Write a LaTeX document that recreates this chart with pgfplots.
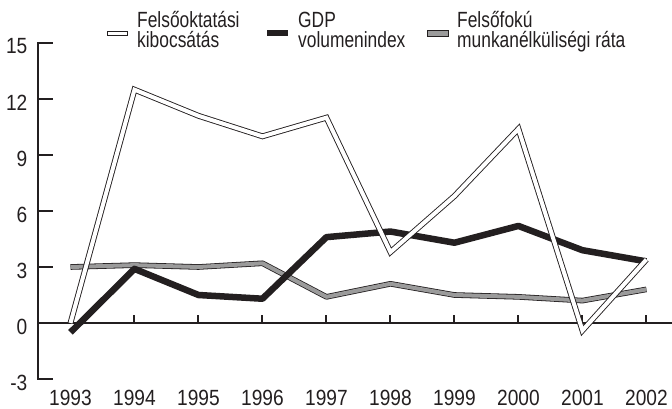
\documentclass[border=0pt]{standalone}
\usepackage{fontspec}
\setmainfont{Liberation Sans}[FakeStretch=0.87]
\newfontfamily\legfont{Liberation Sans}[FakeStretch=0.79]
\usepackage{pgfplots}
\pgfplotsset{compat=1.18}
\definecolor{ink}{HTML}{231F20}
\definecolor{greyline}{HTML}{9B9B9B}

\begin{document}
\begin{tikzpicture}[font=\fontsize{22}{20}\selectfont, every node/.style={text=ink}]
\useasboundingbox (-38.5pt,-30pt) rectangle (633.5pt,379pt);
\begin{axis}[
  scale only axis,
  width=633.5pt, height=336pt,
  xmin=1992.5, xmax=2002.4,
  ymin=-3, ymax=15,
  axis lines*=left,
  x axis line style={draw=none},
  y axis line style={line width=2pt, line cap=rect, ink},
  xtick={1993,1994,1995,1996,1997,1998,1999,2000,2001,2002},
  xticklabels={1993,1994,1995,1996,1997,1998,1999,2000,2001,2002},
  ytick={-3,0,3,6,9,12,15},
  yticklabels={-3,0,3,6,9,12,15},
  xtick style={draw=none},
  ytick style={line width=2pt, ink},
  tick align=inside,
  major tick length=15pt,
  yticklabel style={anchor=east, inner sep=0pt, xshift=-11pt, yshift=-3.5pt},
  xticklabel style={anchor=north, inner sep=0pt, yshift=-10.5pt},
  clip=false
]
% zero line with its small ticks
\draw[line width=2pt, ink] (axis cs:1992.5,0) -- (axis cs:2002.4,0);
\pgfplotsinvokeforeach{1994,1995,1996,1997,1998,1999,2000,2001,2002}{
  \draw[line width=2pt, ink] (axis cs:#1,0) -- ++(0pt,8pt);
}
% Felsőfokú munkanélküliségi ráta
\addplot[draw=ink, line width=0.8pt, double=greyline, double distance=4pt, line join=round] coordinates {
  (1993,3.0) (1994,3.1) (1995,3.0) (1996,3.2) (1997,1.4)
  (1998,2.1) (1999,1.5) (2000,1.4) (2001,1.2) (2002,1.8)};
% GDP volumenindex
\addplot[draw=ink, line width=6.5pt, line join=round] coordinates {
  (1993,-0.5) (1994,2.9) (1995,1.5) (1996,1.3) (1997,4.6)
  (1998,4.9) (1999,4.3) (2000,5.2) (2001,3.9) (2002,3.3)};
% Felsőoktatási kibocsátás
\addplot[draw=ink, line width=0.9pt, double=white, double distance=4pt, line join=miter] coordinates {
  (1993,0) (1994,12.5) (1995,11.1) (1996,10.0) (1997,11.0)
  (1998,3.8) (1999,6.8) (2000,10.4) (2001,-0.4) (2002,3.4)};
\end{axis}
% legend
\begin{scope}[every node/.append style={anchor=base west, inner sep=0pt, font=\legfont\fontsize{22}{20}\selectfont}]
\draw[ink, line width=0.9pt, fill=white] (68.5pt,343.5pt) rectangle (88.5pt,348pt);
\node at (98.5pt,351pt) {Felsőoktatási};
\node at (98.5pt,331pt) {kibocsátás};
\fill[ink] (228.5pt,342.5pt) rectangle (249.5pt,349pt);
\node at (259.5pt,351pt) {GDP};
\node at (259.5pt,331pt) {volumenindex};
\draw[ink, line width=0.9pt, fill=greyline] (388.5pt,343pt) rectangle (409.5pt,348.5pt);
\node at (418.5pt,351pt) {Felsőfokú};
\node at (418.5pt,331pt) {munkanélküliségi ráta};
\end{scope}
\end{tikzpicture}
\end{document}
